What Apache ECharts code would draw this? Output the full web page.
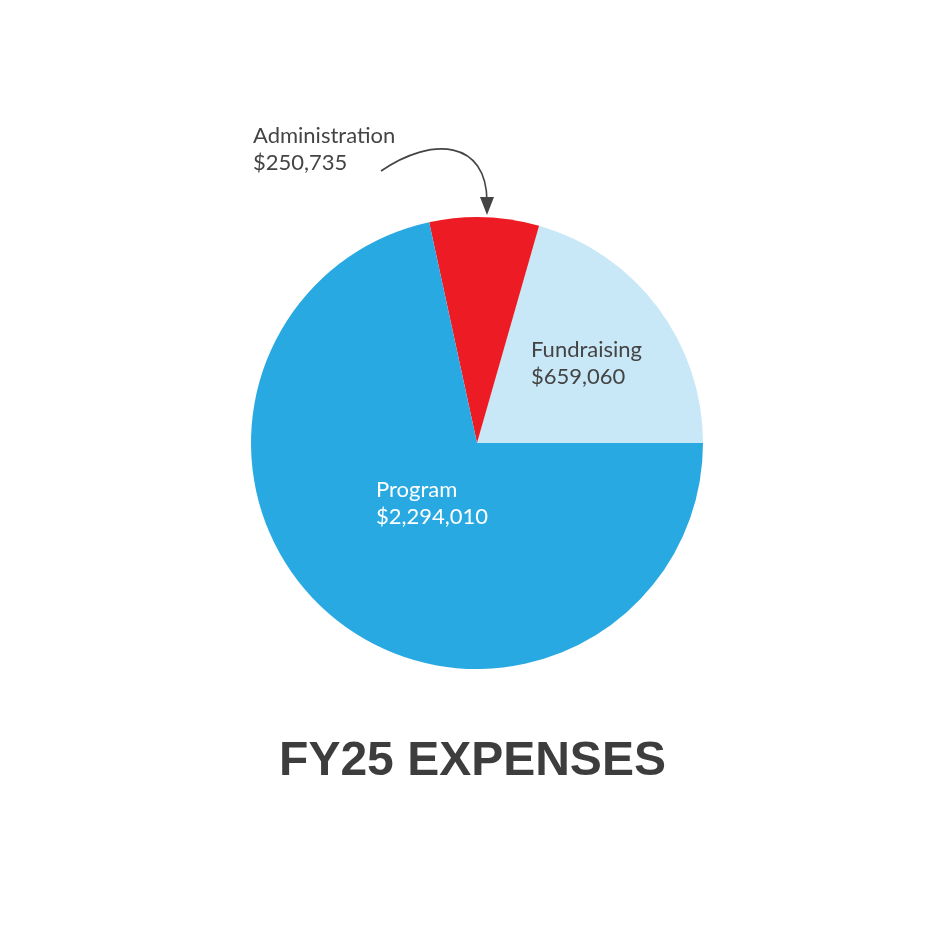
<!DOCTYPE html>
<html>
<head>
<meta charset="utf-8">
<script src="https://cdn.jsdelivr.net/npm/echarts@6/dist/echarts.min.js"></script>
<style>
  html, body { margin: 0; padding: 0; background: #fff; }
  #chart { width: 945px; height: 945px; }
</style>
</head>
<body>
<div id="chart"></div>
<script>
  // order: counter-clockwise from 3 o'clock
  var categories = ['Fundraising', 'Administration', 'Program'];
  var amounts = [659060, 250735, 2294010];
  var colors = ['#C9E8F7', '#ED1C24', '#29A9E1'];
  var title = 'FY25 EXPENSES';

  function money(v) {
    return '$' + v.toLocaleString('en-US');
  }

  var pieData = categories.map(function (c, i) {
    return { name: c, value: amounts[i], itemStyle: { color: colors[i] } };
  });

  var labelFont = 'Lato, "Open Sans", sans-serif';

  var chart = echarts.init(document.getElementById('chart'));
  var option = {
    animation: false,
    backgroundColor: '#ffffff',
    graphic: {
      elements: [
        // Fundraising label
        {
          type: 'text', left: 531, top: 336, z: 100,
          style: { text: categories[0] + '\n' + money(amounts[0]), fill: '#444444',
            font: '22px ' + labelFont, lineHeight: 27 }
        },
        // Administration label
        {
          type: 'text', left: 253, top: 122, z: 100,
          style: { text: categories[1] + '\n' + money(amounts[1]), fill: '#444444',
            font: '22px ' + labelFont, lineHeight: 27 }
        },
        // Program label
        {
          type: 'text', left: 376, top: 476, z: 100,
          style: { text: categories[2] + '\n' + money(amounts[2]), fill: '#ffffff',
            font: '22px ' + labelFont, lineHeight: 27 }
        },
        // arrow to admin slice
        {
          type: 'bezierCurve', z: 100,
          shape: { x1: 381, y1: 171, cpx1: 432, cpy1: 136, cpx2: 487, cpy2: 140, x2: 487, y2: 202 },
          style: { stroke: '#444444', lineWidth: 1.6, fill: null }
        },
        {
          type: 'polygon', z: 100,
          shape: { points: [[480, 197], [494, 197], [487, 215]] },
          style: { fill: '#444444' }
        },
        // title
        {
          type: 'text', left: 'center', top: 738, z: 100,
          style: { text: title, fill: '#3d3d3d',
            font: 'bold 48px "Liberation Sans", sans-serif' }
        }
      ]
    },
    series: [
      {
        type: 'pie',
        center: [477, 443],
        radius: [0, 226],
        startAngle: 0,
        clockwise: false,
        silent: true,
        z: 1,
        label: { show: false },
        labelLine: { show: false },
        itemStyle: { borderWidth: 0 },
        data: pieData
      }
    ]
  };
  chart.setOption(option);
  window.addEventListener('resize', function () {
    chart.resize();
  });
</script>
</body>
</html>
